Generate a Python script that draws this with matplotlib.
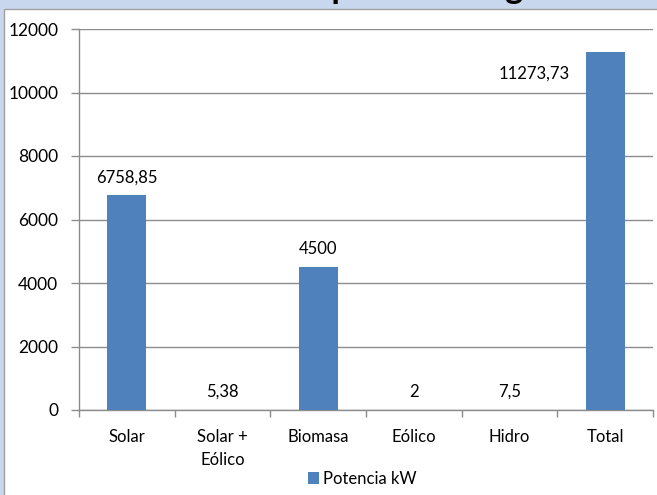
import matplotlib
matplotlib.use("Agg")
import matplotlib.pyplot as plt
from matplotlib.patches import Rectangle
from matplotlib.ticker import FixedLocator, NullFormatter

plt.rcParams['font.family'] = ['Lato', 'DejaVu Sans']

categories = ["Solar", "Solar +\nEólico", "Biomasa", "Eólico", "Hidro", "Total"]
values = [6758.85, 5.38, 4500, 2, 7.5, 11273.73]
value_labels = ["6758,85", "5,38", "4500", "2", "7,5", "11273,73"]
series_name = "Potencia kW"
yticks = [0, 2000, 4000, 6000, 8000, 10000, 12000]
title = "Potencia por tecnología"

W, H = 657, 495
fig = plt.figure(figsize=(W / 100, H / 100), dpi=100, facecolor='#C8D7EE')

# title, mostly above the visible area (only descenders show, as in the reference)
fig.text(0.562, 1 + 2.0 / H, title, ha='center', va='baseline', fontsize=24.5,
         fontweight='bold', color='black', zorder=0.5)
fig.patches.append(Rectangle((4 / W, -0.01), 1.0, 1 - 9 / H + 0.01, transform=fig.transFigure,
                             facecolor='white', edgecolor='#A0A0A0', lw=1.0, zorder=1))

left, right, top, bottom = 79 / W, 653 / W, 29 / H, 410 / H
ax = fig.add_axes([left, 1 - bottom, right - left, bottom - top])
ax.set_zorder(2)
ax.set_facecolor('none')

x = list(range(len(categories)))
bars = ax.bar(x, values, width=0.41, color='#4F81BD', zorder=3, label=series_name)

ax.set_xlim(-0.5, len(categories) - 0.5)
ax.set_ylim(0, 12000)
ax.set_yticks(yticks)
ax.set_yticklabels([str(t) for t in yticks])
ax.yaxis.grid(True, color='#8C8C8C', linewidth=1.0, zorder=0)
ax.set_axisbelow(True)

ax.set_xticks(x)
ax.set_xticklabels(categories, linespacing=1.5)
ax.xaxis.set_minor_locator(FixedLocator([i - 0.5 for i in range(len(categories) + 1)]))
ax.xaxis.set_minor_formatter(NullFormatter())
ax.tick_params(axis='x', which='major', length=0, pad=14, labelsize=12)
ax.tick_params(axis='x', which='minor', length=5, width=1, color='#8C8C8C', direction='out')
ax.tick_params(axis='y', length=6, width=1, color='#8C8C8C', direction='out', pad=9, labelsize=12.5)

for s in ['top', 'right']:
    ax.spines[s].set_visible(False)
for s in ['left', 'bottom']:
    ax.spines[s].set_color('#8C8C8C')
    ax.spines[s].set_linewidth(1.0)

for i, (xi, v, lab) in enumerate(zip(x, values, value_labels)):
    if i == len(values) - 1:
        # label of the tallest bar sits to its left, just under the top
        ax.annotate(lab, (xi, v), xytext=(-51, -19), textcoords='offset points',
                    ha='center', va='baseline', fontsize=12, color='black')
    else:
        ax.annotate(lab, (xi, v), xytext=(0, 9.5), textcoords='offset points',
                    ha='center', va='baseline', fontsize=12, color='black')

leg = fig.legend(handles=[bars], labels=[series_name], loc='center',
                 bbox_to_anchor=(362 / W, 1 - 479 / H), frameon=False, fontsize=12,
                 handlelength=0.7, handleheight=0.7, handletextpad=0.2)

fig.savefig('out.png', dpi=100, facecolor=fig.get_facecolor())
